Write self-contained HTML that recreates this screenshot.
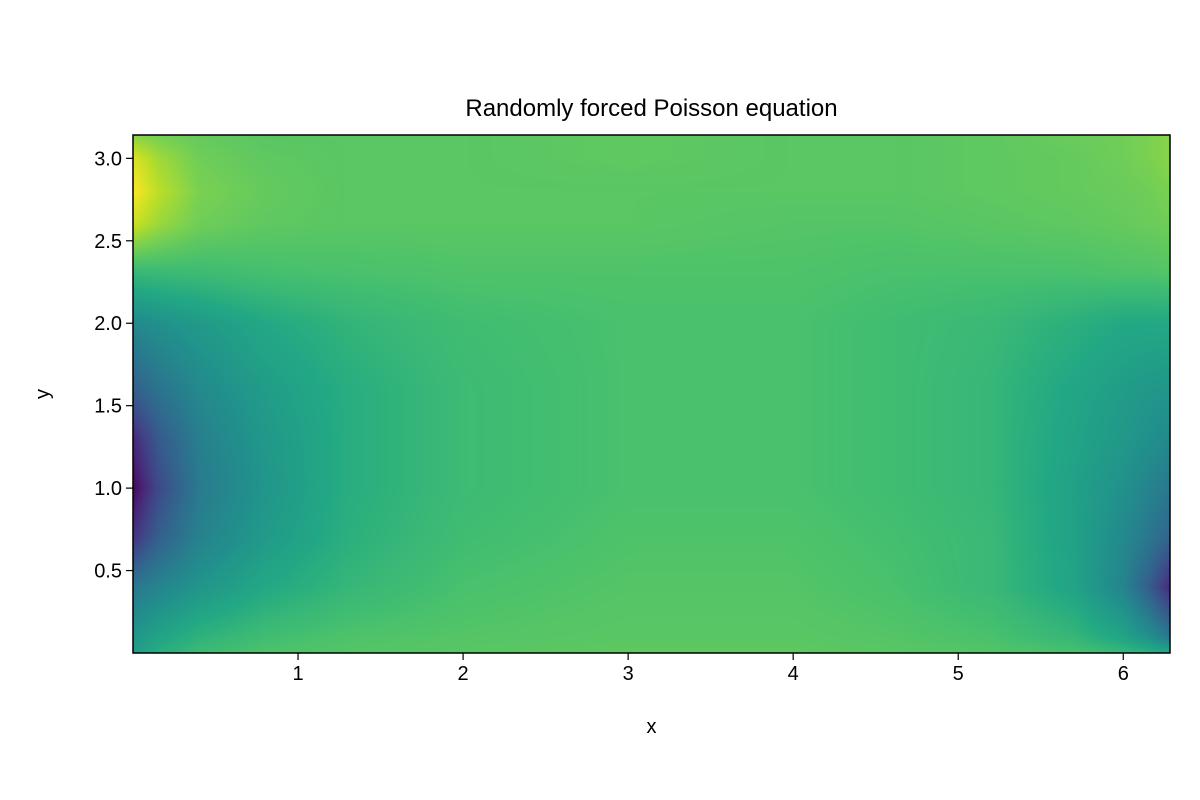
<!DOCTYPE html>
<html><head><meta charset="utf-8"><style>
body{margin:0;background:#fff;width:1200px;height:800px;overflow:hidden;font-family:"Liberation Sans","DejaVu Sans",sans-serif}
#wrap{position:relative;width:1200px;height:800px}
canvas{position:absolute;left:133px;top:135px}
svg{position:absolute;left:0;top:0}
</style></head><body>
<div id="wrap">
<canvas id="hm" width="1037" height="518"></canvas>
<svg id="ax" width="1200" height="800"></svg>
</div>
<script>
const xs=[0,0.15,0.4,0.8,1.3,2,3,4,4.6,5.2,5.7,6.0,6.15,6.2832];
const ys=[0,0.1,0.4,0.7,1.0,1.3,1.6,2.0,2.3,2.6,2.8,3.0,3.1416];
const col0=[0.55,0.52,0.4,0.15,0.02,0.12,0.3,0.47,0.66,0.92,1.0,0.95,0.82];
const col1=[0.62,0.58,0.45,0.3,0.22,0.28,0.38,0.5,0.67,0.85,0.9,0.86,0.79];
const col2=[0.68,0.64,0.52,0.44,0.41,0.43,0.47,0.54,0.68,0.78,0.8,0.78,0.76];
const col3=[0.72,0.69,0.6,0.54,0.52,0.53,0.55,0.6,0.7,0.75,0.76,0.75,0.74];
const col4=[0.73,0.72,0.66,0.63,0.62,0.62,0.62,0.65,0.71,0.74,0.74,0.74,0.74];
const col5=[0.74,0.73,0.71,0.69,0.68,0.68,0.68,0.69,0.72,0.74,0.74,0.74,0.74];
const col6=[0.75,0.74,0.73,0.72,0.71,0.71,0.71,0.71,0.72,0.74,0.74,0.75,0.75];
const col7=[0.75,0.74,0.73,0.72,0.71,0.71,0.71,0.71,0.72,0.73,0.74,0.74,0.74];
const col8=[0.74,0.73,0.71,0.7,0.69,0.69,0.69,0.69,0.71,0.73,0.74,0.74,0.74];
const col9=[0.73,0.71,0.67,0.67,0.66,0.66,0.66,0.67,0.71,0.74,0.75,0.75,0.75];
const col10=[0.71,0.66,0.58,0.57,0.57,0.58,0.59,0.63,0.71,0.75,0.76,0.76,0.77];
const col11=[0.67,0.58,0.45,0.47,0.5,0.53,0.55,0.6,0.72,0.76,0.77,0.78,0.78];
const col12=[0.64,0.5,0.3,0.4,0.45,0.5,0.53,0.6,0.72,0.77,0.78,0.8,0.8];
const col13=[0.6,0.4,0.12,0.32,0.4,0.47,0.52,0.6,0.73,0.78,0.8,0.82,0.82];
const grid=[col0,col1,col2,col3,col4,col5,col6,col7,col8,col9,col10,col11,col12,col13];
const xTicks=[1,2,3,4,5,6];
const yTicks=[0.5,1.0,1.5,2.0,2.5,3.0];
const vir=[[68,1,84],[72,36,117],[65,68,135],[53,95,141],[42,120,142],[33,145,140],[34,168,132],[68,191,112],[122,209,81],[189,223,38],[253,231,37]];
const L=133,T=135,W=1037,H=518,XMAX=2*Math.PI,YMAX=Math.PI;
const sx=x=>L+x/XMAX*W, sy=y=>T+H-y/YMAX*H;
function cmap(v){v=Math.max(0,Math.min(1,v));const f=v*10,i=Math.min(9,Math.floor(f)),t=f-i;return vir[i].map((c,k)=>c+(vir[i+1][k]-c)*t);}
function seg(a,v){let i=0;while(i<a.length-2&&v>a[i+1])i++;return [i,(v-a[i])/(a[i+1]-a[i])];}
const ctx=document.getElementById('hm').getContext('2d');
const img=ctx.createImageData(W,H);
for(let py=0;py<H;py++){const y=(H-py-0.5)/H*YMAX;const [j,ty]=seg(ys,y);
 for(let px=0;px<W;px++){const x=(px+0.5)/W*XMAX;const [i,tx]=seg(xs,x);
  const v=(grid[i][j]*(1-tx)+grid[i+1][j]*tx)*(1-ty)+(grid[i][j+1]*(1-tx)+grid[i+1][j+1]*tx)*ty;
  const c=cmap(v);const o=(py*W+px)*4;img.data[o]=c[0];img.data[o+1]=c[1];img.data[o+2]=c[2];img.data[o+3]=255;}}
ctx.putImageData(img,0,0);
const svg=document.getElementById('ax');const NS='http://www.w3.org/2000/svg';
function mk(tag,attrs,txt){const e=document.createElementNS(NS,tag);for(const k in attrs)e.setAttribute(k,attrs[k]);if(txt!=null)e.textContent=txt;svg.appendChild(e);return e;}
let fr=mk('rect',{x:L,y:T,width:W,height:H,fill:'none',stroke:'#000','stroke-width':1.5});


xTicks.forEach(v=>{const X=sx(v);
 const tk=mk('line',{x1:X,x2:X,y1:T+H,y2:T+H+7,stroke:'#000','stroke-width':1.2});
 
 
 const tl=mk('text',{x:X,y:T+H+27,'text-anchor':'middle','font-size':'20px'},String(v));
 
 });
yTicks.forEach(v=>{const Y=sy(v);
 const tk=mk('line',{x1:L-7,x2:L,y1:Y,y2:Y,stroke:'#000','stroke-width':1.2});
 
 
 const tl=mk('text',{x:L-11,y:Y+7,'text-anchor':'end','font-size':'20px'},v.toFixed(1));
 
 });
const tt=mk('text',{x:L+W/2,y:116,'text-anchor':'middle','font-size':'24px'},'Randomly forced Poisson equation');


const xl=mk('text',{x:L+W/2,y:733,'text-anchor':'middle','font-size':'20px'},'x');


const yl=mk('text',{x:0,y:0,'text-anchor':'middle','font-size':'20px',transform:'translate(49,394) rotate(-90)'},'y');


</script>
</body></html>
